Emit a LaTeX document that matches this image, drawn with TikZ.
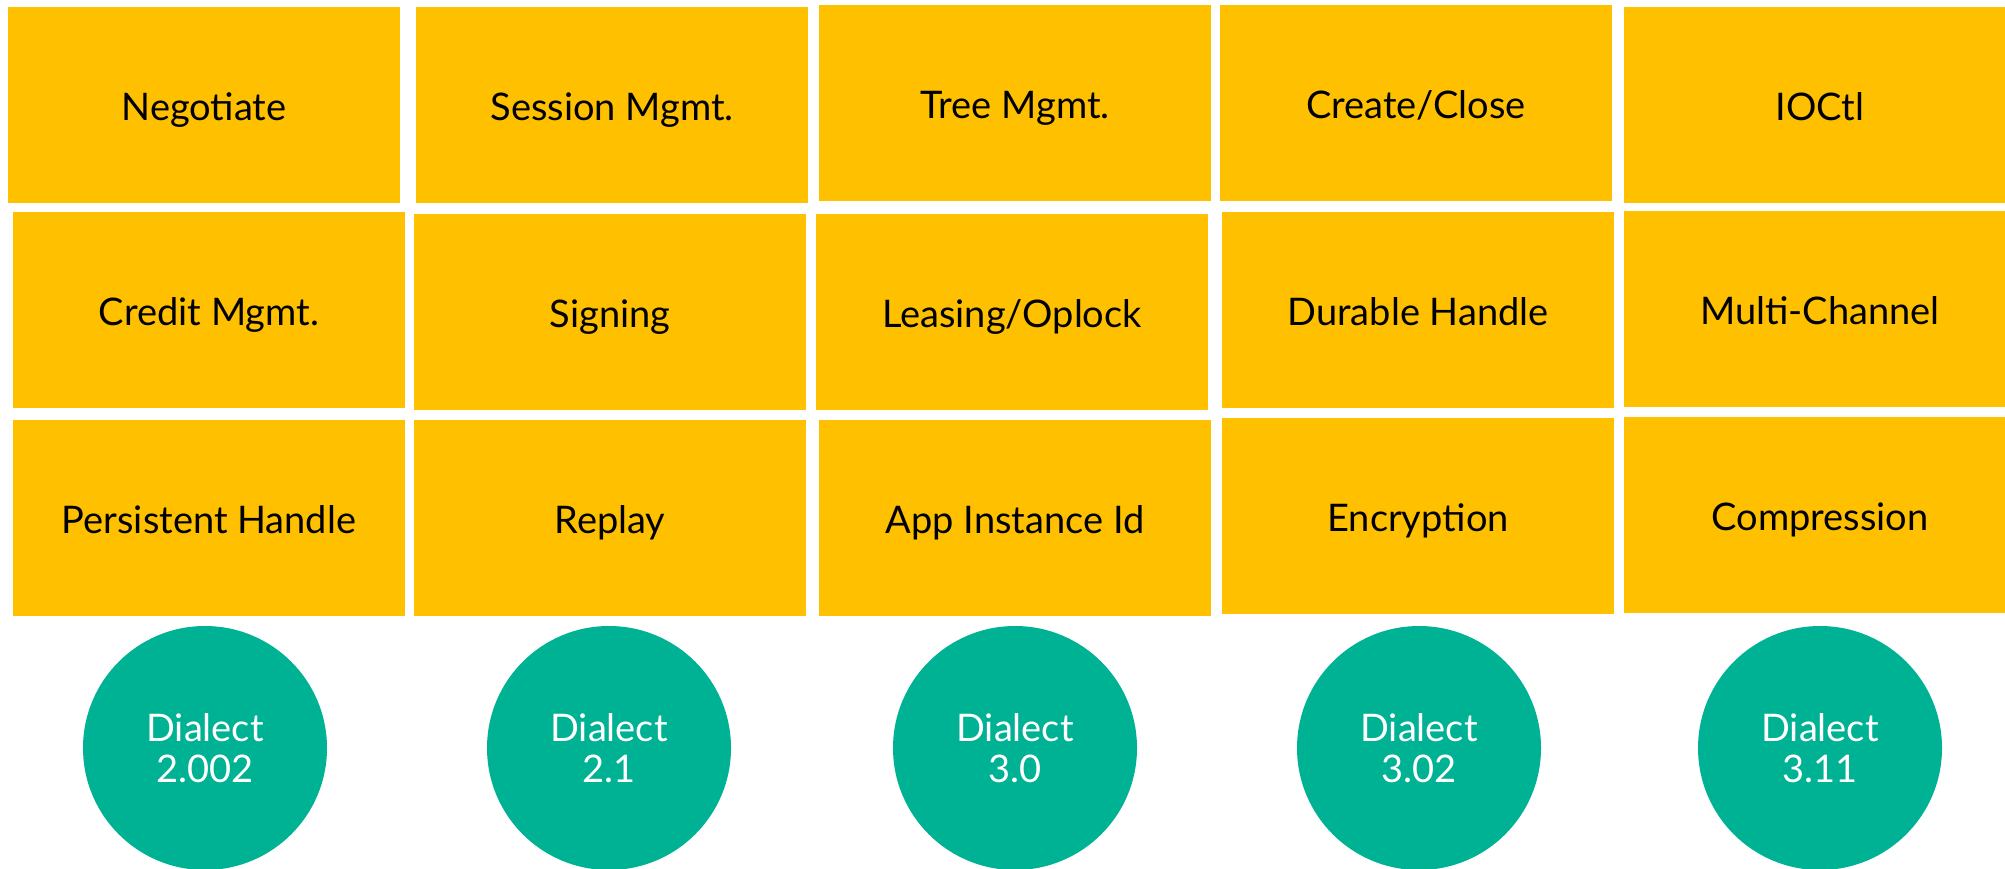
\documentclass[tikz,border=0pt]{standalone}
\usepackage{fontspec}
\setmainfont{Lato}
\usepackage{xcolor}
\usepackage{tikz}
\usetikzlibrary{positioning}
\definecolor{featgold}{HTML}{FFC000}
\definecolor{dialteal}{HTML}{00B294}
\tikzset{feat/.style={rectangle, fill=featgold, text=black, minimum width=196pt, minimum height=98pt, inner sep=0pt, outer sep=0pt, font=\fontsize{19}{23}\selectfont, text height=16pt, text depth=1pt}}
\tikzset{dial/.style={circle, fill=dialteal, text=white, minimum size=122pt, inner sep=0pt, outer sep=0pt, align=center, font=\fontsize{19}{20.5}\selectfont}}

\begin{document}
\begin{tikzpicture}
		\useasboundingbox (0,0) rectangle (1002.5pt,-434pt);
		% top row
		\node[feat] (neg) at (102pt,-52.5pt) {Negotiate};
		\node[feat] (ses) [right=8pt of neg] {Session Mgmt.};
		\node[feat] (tree) [right=5.5pt of ses, yshift=1pt] {Tree Mgmt.};
		\node[feat] (crc) [right=4.5pt of tree] {Create/Close};
		\node[feat] (ioctl) [right=6pt of crc, yshift=-1pt] {IOCtl};
		% middle row
		\node[feat] (credit) [below=4.5pt of neg, xshift=2.5pt] {Credit Mgmt.};
		\node[feat] (sign) [right=4.5pt of credit, yshift=-1pt] {Signing};
		\node[feat] (lease) [right=5pt of sign] {Leasing/Oplock};
		\node[feat] (dur) [right=7pt of lease, yshift=1pt] {Durable Handle};
		\node[feat] (multi) [right=5pt of dur, yshift=0.5pt] {Multi-Channel};
		% bottom row
		\node[feat] (pers) [below=6pt of credit] {Persistent Handle};
		\node[feat] (replay) [right=4.5pt of pers] {Replay};
		\node[feat] (app) [right=6.5pt of replay] {App Instance Id};
		\node[feat] (enc) [right=5.5pt of app, yshift=1pt] {Encryption};
		\node[feat] (comp) [right=5pt of enc, yshift=0.5pt] {Compression};
		% dialects
		\node[dial] (d1) [below=5pt of pers, xshift=-2pt] {Dialect\\2.002};
		\node[dial] (d2) [right=80pt of d1] {Dialect\\2.1};
		\node[dial] (d3) [right=81pt of d2] {Dialect\\3.0};
		\node[dial] (d4) [right=80pt of d3] {Dialect\\3.02};
		\node[dial] (d5) [right=78.5pt of d4] {Dialect\\3.11};
\end{tikzpicture}
\end{document}
